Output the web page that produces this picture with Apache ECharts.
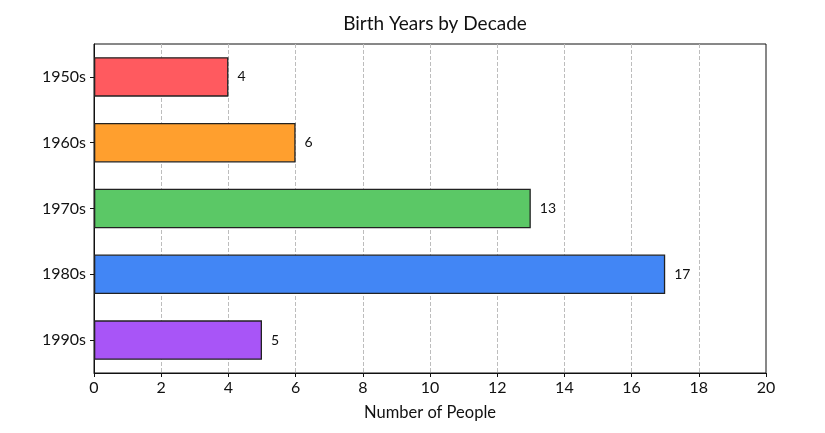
<!DOCTYPE html>
<html>
<head>
<meta charset="utf-8">
<script src="https://cdn.jsdelivr.net/npm/echarts@6/dist/echarts.min.js"></script>
<style>
html, body { margin: 0; padding: 0; background: #fff; }
#chart { width: 825px; height: 433px; }
</style>
</head>
<body>
<div id="chart"></div>
<script>
// data
var decades = ['1950s', '1960s', '1970s', '1980s', '1990s'];
var counts = [4, 6, 13, 17, 5];
var barColors = ['#ff5a5f', '#ff9f2e', '#5bc866', '#4286f5', '#a855f7'];
var xTicks = [0, 2, 4, 6, 8, 10, 12, 14, 16, 18, 20];

var myChart = echarts.init(document.getElementById('chart'));
var font = 'Lato, "Open Sans", sans-serif';

var option = {
    backgroundColor: '#fff',
    animation: false,
    textStyle: { fontFamily: font },
    title: {
        text: 'Birth Years by Decade',
        left: 430,
        textAlign: 'center',
        top: 9,
        textStyle: { fontSize: 19, fontWeight: 'normal', color: '#111', fontFamily: font }
    },
    grid: {
        left: 94, right: 59, top: 44, bottom: 60,
        show: true, borderColor: '#111', borderWidth: 1,
        containLabel: false
    },
    xAxis: {
        type: 'value',
        min: xTicks[0],
        max: xTicks[xTicks.length - 1],
        interval: 2,
        name: 'Number of People',
        nameLocation: 'middle',
        nameGap: 31,
        nameTextStyle: { fontSize: 16.5, color: '#111' },
        axisLine: { show: true, lineStyle: { color: '#111' } },
        axisTick: { show: true, length: 4, lineStyle: { color: '#111' } },
        axisLabel: { fontSize: 16, color: '#111', margin: 7 },
        splitLine: {
            show: true, showMinLine: false, showMaxLine: false,
            lineStyle: { type: 'dashed', color: '#bdbdbd' }
        }
    },
    yAxis: {
        type: 'category',
        data: decades,
        inverse: true,
        axisLine: { show: true, lineStyle: { color: '#111' } },
        axisTick: { show: true, alignWithLabel: true, length: 4, lineStyle: { color: '#111' } },
        axisLabel: { fontSize: 16, color: '#111', margin: 8 },
        splitLine: { show: false }
    },
    series: [{
        type: 'bar',
        barWidth: '60%',
        data: counts.map(function (v, i) {
            return { value: v, itemStyle: { color: barColors[i] } };
        }),
        itemStyle: { borderColor: '#222', borderWidth: 1.3 },
        label: {
            show: true,
            position: 'right',
            distance: 9,
            fontSize: 14,
            color: '#111'
        }
    }]
};

myChart.setOption(option);
</script>
</body>
</html>
